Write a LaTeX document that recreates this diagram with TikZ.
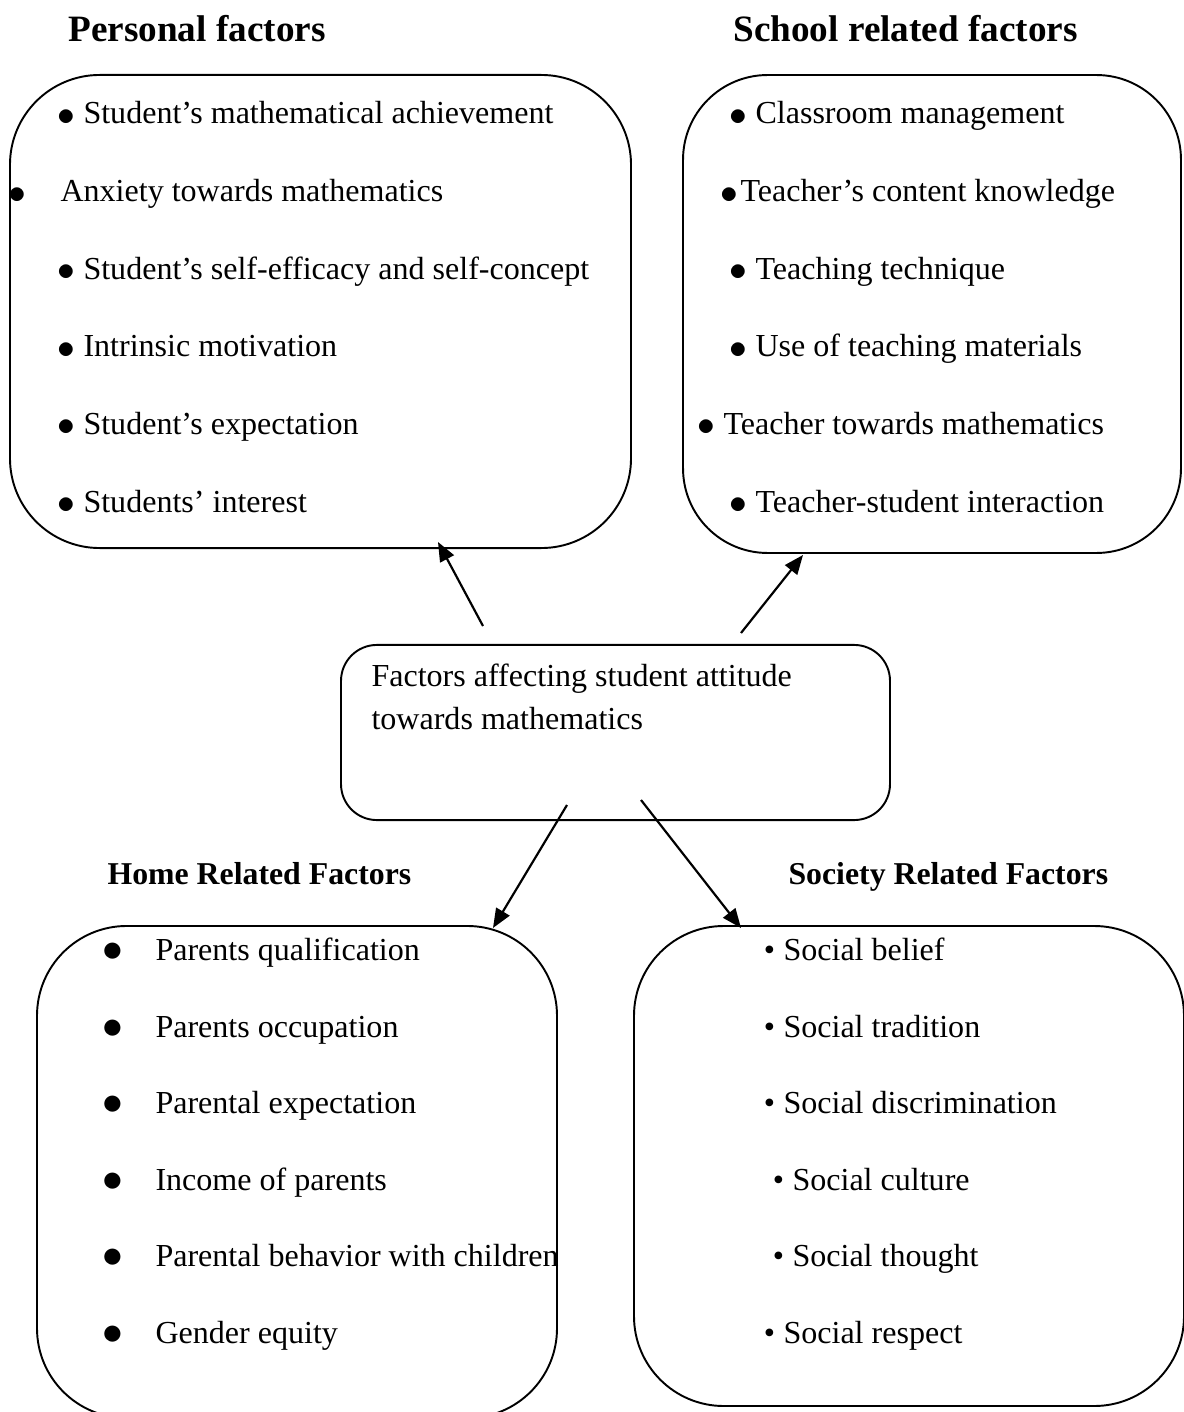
\documentclass[tikz,border=0pt]{standalone}
\usepackage{fontspec}
\usepackage{graphicx}
\setmainfont{Liberation Serif}
\usetikzlibrary{arrows.meta}
\newcommand{\bigbul}[2][1.15]{\llap{\raisebox{-0.4pt}{\scalebox{#1}{$\bullet$}}\hspace{#2}}}
\newcommand{\smallbul}[1]{\llap{\textbullet\hspace{#1}}}

\begin{document}
\begin{tikzpicture}[x=0.39pt,y=-0.39pt,
		catbox/.style={draw,line width=0.75pt,rounded corners=#1,inner sep=0pt},
		catbox/.default=35pt,
		head/.style={anchor=base west,inner sep=0pt,font=\fontsize{14.5}{17}\selectfont\bfseries},
		subhead/.style={anchor=base west,inner sep=0pt,font=\fontsize{12.4}{15}\selectfont\bfseries},
		item/.style={anchor=base west,inner sep=0pt,font=\fontsize{12.5}{16.8}\selectfont},
		arr/.style={-{Triangle[length=7.5pt,width=6pt]},line width=0.85pt}]
		\useasboundingbox (0,0) rectangle (1183,1412);
		% headings
		\node[head] (hpers) at (68,42) {Personal factors};
		\node[head] (hschool) at (733,42) {School related factors};
		\node[subhead] (hhome) at (107,884) {Home Related Factors};
		\node[subhead] (hsoc) at (788,884) {Society Related Factors};
		% boxes
		\node[catbox,minimum width=242.2pt,minimum height=184.5pt] (personal) at (320.5,311.5) {};
		\node[catbox=33pt,minimum width=194.2pt,minimum height=186.4pt] (school) at (932,314) {};
		\node[catbox=14pt,minimum width=214.1pt,minimum height=68.3pt] (center) at (615.5,732.5) {};
		\node[catbox,minimum width=202.8pt,minimum height=191.9pt] (home) at (297,1172) {};
		\node[catbox,minimum width=214.5pt,minimum height=187.2pt] (society) at (909,1166) {};
		% personal
		\node[item] (p1) at (83,124) {\bigbul{3.3pt}Student’s mathematical achievement};
		\node[item] (p2) at (60,202) {\bigbul{13.5pt}Anxiety towards mathematics};
		\node[item] (p3) at (83,279) {\bigbul{3.3pt}Student’s self-efficacy and self-concept};
		\node[item] (p4) at (83,357) {\bigbul{3.3pt}Intrinsic motivation};
		\node[item] (p5) at (83,434) {\bigbul{3.3pt}Student’s expectation};
		\node[item] (p6) at (83,512) {\bigbul{3.3pt}Students’ interest};
		% school
		\node[item] (s1) at (755,124) {\bigbul{3.3pt}Classroom management};
		\node[item] (s2) at (740,202) {\bigbul{1pt}Teacher’s content knowledge};
		\node[item] (s3) at (755,279) {\bigbul{3.3pt}Teaching technique};
		\node[item] (s4) at (755,357) {\bigbul{3.3pt}Use of teaching materials};
		\node[item] (s5) at (723,434) {\bigbul{3.3pt}Teacher towards mathematics};
		\node[item] (s6) at (755,512) {\bigbul{3.3pt}Teacher-student interaction};
		% center
		\node[item,anchor=north west,align=left] (ctext) at (371,663) {Factors affecting student attitude\\towards mathematics};
		% home
		\node[item] (h1) at (155,960) {\bigbul[1.35]{12.6pt}Parents qualification};
		\node[item] (h2) at (155,1037) {\bigbul[1.35]{12.6pt}Parents occupation};
		\node[item] (h3) at (155,1113) {\bigbul[1.35]{12.6pt}Parental expectation};
		\node[item] (h4) at (155,1190) {\bigbul[1.35]{12.6pt}Income of parents};
		\node[item] (h5) at (155,1266) {\bigbul[1.35]{12.6pt}Parental behavior with children};
		\node[item] (h6) at (155,1343) {\bigbul[1.35]{12.6pt}Gender equity};
		% society
		\node[item] (o1) at (783,960) {\smallbul{3.3pt}Social belief};
		\node[item] (o2) at (783,1037) {\smallbul{3.3pt}Social tradition};
		\node[item] (o3) at (783,1113) {\smallbul{3.3pt}Social discrimination};
		\node[item] (o4) at (792,1190) {\smallbul{3.3pt}Social culture};
		\node[item] (o5) at (792,1266) {\smallbul{3.3pt}Social thought};
		\node[item] (o6) at (783,1343) {\smallbul{3.3pt}Social respect};
		% arrows
		\coordinate (ap) at (483,626);
		\coordinate (as) at (741,633);
		\coordinate (ah) at (567,805);
		\coordinate (ao) at (641,800);
		\coordinate (tp) at (438,542);
		\coordinate (ts) at (803,555);
		\coordinate (th) at (493,928);
		\coordinate (to) at (741,928);
		\draw[arr] (ap) -- (tp);
		\draw[arr] (as) -- (ts);
		\draw[arr] (ah) -- (th);
		\draw[arr] (ao) -- (to);
\end{tikzpicture}
\end{document}
